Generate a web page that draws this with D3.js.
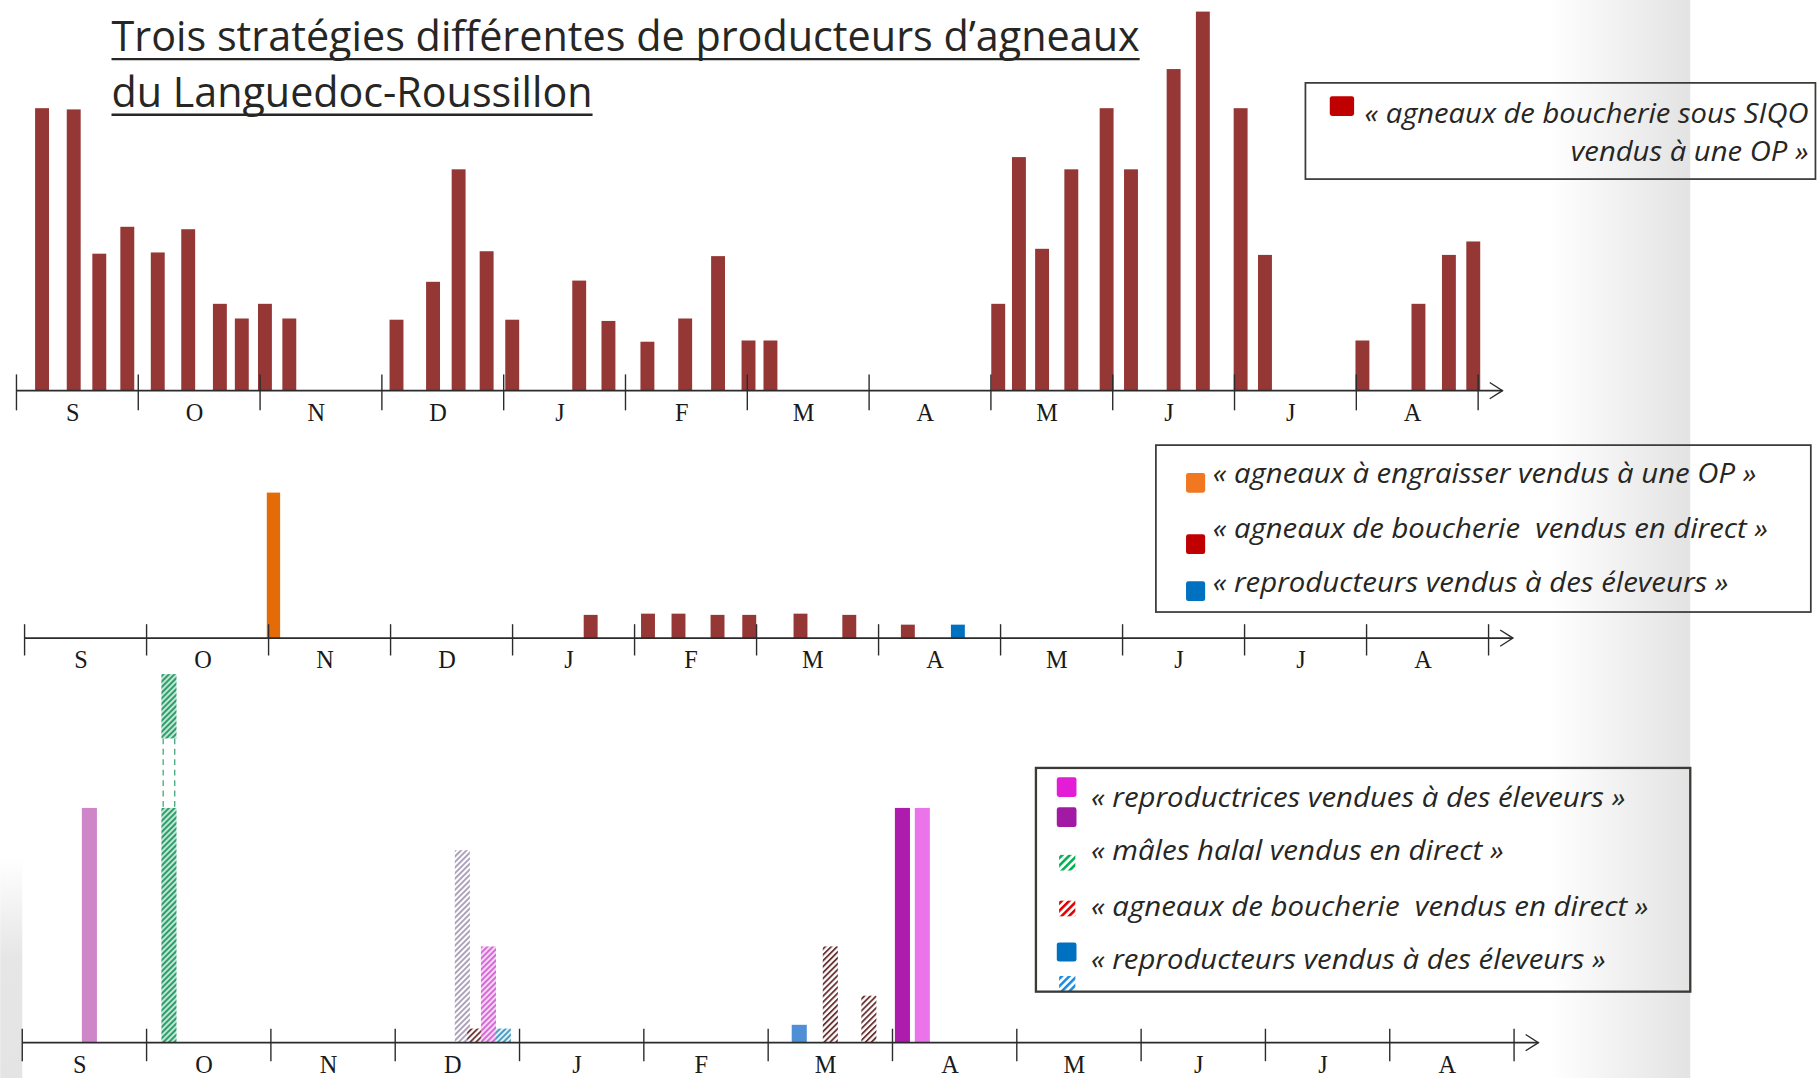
<!DOCTYPE html>
<html>
<head>
<meta charset="utf-8">
<script src="https://cdn.jsdelivr.net/npm/d3@7"></script>
<style>
  body { margin: 0; background: #fff; }
  svg text { white-space: pre; }
</style>
</head>
<body>
<svg id="drawing_region"></svg>
<script>
// month labels, september -> august
const months = ["S","O","N","D","J","F","M","A","M","J","J","A"];

// panel 1 : agneaux de boucherie sous SIQO vendus a une OP (position in months, height)
const siqoMonth = [0.21, 0.47, 0.68, 0.91, 1.16, 1.41, 1.67, 1.85, 2.04, 2.24,
                   3.12, 3.42, 3.63, 3.86, 4.07, 4.62, 4.86, 5.18, 5.49, 5.76, 6.01, 6.19,
                   8.06, 8.23, 8.42, 8.66, 8.95, 9.15, 9.5, 9.74, 10.05, 10.25,
                   11.05, 11.51, 11.76, 11.96];
const siqoValue = [23.1, 23, 11.2, 13.4, 11.3, 13.2, 7.1, 5.9, 7.1, 5.9,
                   5.8, 8.9, 18.1, 11.4, 5.8, 9, 5.7, 4, 5.9, 11, 4.1, 4.1,
                   7.1, 19.1, 11.6, 18.1, 23.1, 18.1, 26.3, 31, 23.1, 11.1,
                   4.1, 7.1, 11.1, 12.2];

// panel 2
const engraisMonth = [2.04];
const engraisValue = [11.9];
const directMonth = [4.64, 5.11, 5.36, 5.68, 5.94, 6.36, 6.76, 7.24];
const directValue = [1.9, 2, 2, 1.9, 1.9, 2, 1.9, 1.1];
const reproMonth = [7.65];
const reproValue = [1.1];

// panel 3
const p3Month = [0.54, 1.18, 3.54, 3.64, 3.75, 3.87, 6.25, 6.5, 6.81, 7.08, 7.24];
const p3Value = [5, 7.85, 4.1, 0.3, 2.05, 0.3, 0.38, 2.05, 1, 5, 5];
const p3Kind = ["femelle", "halal", "femelleGrise", "boucherie", "femelleHach", "reproHach",
                "repro", "boucherie", "boucherie", "femelleFoncee", "femelleClaire"];
const halalBreak = [5, 6.48];

const titleLines = ["Trois stratégies différentes de producteurs d’agneaux", "du Languedoc-Roussillon"];
const legend1 = ["« agneaux de boucherie sous SIQO", "vendus à une OP »"];
const legend2 = ["« agneaux à engraisser vendus à une OP »",
                 "« agneaux de boucherie  vendus en direct »",
                 "« reproducteurs vendus à des éleveurs »"];
const legend3 = ["« reproductrices vendues à des éleveurs »",
                 "« mâles halal vendus en direct »",
                 "« agneaux de boucherie  vendus en direct »",
                 "« reproducteurs vendus à des éleveurs »"];

const svg = d3.select('#drawing_region')
  .attr('width', 1818)
  .attr('height', 1078)
  .attr('viewBox', '0 0 1568 930');

const defs = svg.append('defs');

function hatch(id, stripe, bg, size, w) {
  const p = defs.append('pattern')
    .attr('id', id)
    .attr('patternUnits', 'userSpaceOnUse')
    .attr('width', size).attr('height', size)
    .attr('patternTransform', 'rotate(45)');
  p.append('rect').attr('width', size).attr('height', size).attr('fill', bg);
  p.append('rect').attr('width', w).attr('height', size).attr('fill', stripe);
}
hatch('h-halal', '#2f9c6c', '#bfe6d3', 3.4, 1.7);
hatch('h-grise', '#a99cb8', '#ffffff', 3.4, 1.6);
hatch('h-femelle', '#d46bd6', '#f6d8f4', 3.4, 1.7);
hatch('h-boucherie', '#6b3535', '#ffffff', 3.6, 1.6);
hatch('h-repro', '#4d9cc4', '#e2f0f6', 3.4, 1.7);
hatch('lg-green', '#00b050', '#ffffff', 4.6, 2.2);
hatch('lg-red', '#e00000', '#ffffff', 4.6, 2.2);
hatch('lg-blue', '#1c8ae0', '#ffffff', 4.6, 2.2);

const band = defs.append('linearGradient').attr('id', 'band').attr('x1', 0).attr('x2', 1).attr('y1', 0).attr('y2', 0);
band.append('stop').attr('offset', 0).attr('stop-color', '#ffffff');
band.append('stop').attr('offset', 1).attr('stop-color', '#e3e3e3');
const corner = defs.append('linearGradient').attr('id', 'corner').attr('x1', 0).attr('x2', 0).attr('y1', 0).attr('y2', 1);
corner.append('stop').attr('offset', 0).attr('stop-color', '#ffffff');
corner.append('stop').attr('offset', 0.45).attr('stop-color', '#e6e6e6');
corner.append('stop').attr('offset', 1).attr('stop-color', '#e4e4e4');

// slide background
svg.append('rect').attr('width', 1568).attr('height', 930).attr('fill', '#fff');
svg.append('rect').attr('x', 1336).attr('y', 0).attr('width', 122).attr('height', 930).attr('fill', 'url(#band)');
svg.append('rect').attr('x', 0).attr('y', 740).attr('width', 19).attr('height', 190).attr('fill', 'url(#corner)');

const styles = {
  femelle: '#cf86c9',
  halal: 'url(#h-halal)',
  femelleGrise: 'url(#h-grise)',
  boucherie: 'url(#h-boucherie)',
  femelleHach: 'url(#h-femelle)',
  reproHach: 'url(#h-repro)',
  repro: '#4f8fd6',
  femelleFoncee: '#ae1cae',
  femelleClaire: '#ec74ea'
};

function drawAxis(x, y0, up, down) {
  const g = svg.append('g');
  g.append('line')
    .attr('x1', x(0)).attr('x2', x(12) + 21)
    .attr('y1', y0).attr('y2', y0)
    .attr('stroke', '#2b2b2b').attr('stroke-width', 1.4);
  g.selectAll('.tick')
    .data(d3.range(13))
    .join('line')
    .attr('x1', d => x(d)).attr('x2', d => x(d))
    .attr('y1', y0 - up).attr('y2', y0 + down)
    .attr('stroke', '#2b2b2b').attr('stroke-width', 1.2);
  g.append('path')
    .attr('d', `M${x(12) + 10},${y0 - 7} L${x(12) + 21},${y0} L${x(12) + 10},${y0 + 7}`)
    .attr('fill', 'none').attr('stroke', '#2b2b2b').attr('stroke-width', 1.2);
  g.selectAll('.mois')
    .data(months)
    .join('text')
    .attr('x', (d, i) => x(i + 0.5) - 4)
    .attr('y', y0 + 26)
    .attr('text-anchor', 'middle')
    .attr('font-family', '"Liberation Serif", "Times New Roman", serif')
    .attr('font-size', 21)
    .attr('fill', '#1a1a1a')
    .text(d => d);
}

function drawBars(months, values, x, y, w, fill) {
  svg.append('g').selectAll('rect')
    .data(d3.zip(months, values))
    .join('rect')
    .attr('x', d => x(d[0]) - w / 2)
    .attr('y', d => y(d[1]))
    .attr('width', w)
    .attr('height', d => y(0) - y(d[1]))
    .attr('fill', fill);
}

// ---------- panel 1
const x1 = d3.scaleLinear().domain([0, 12]).range([14, 1275]);
const y1 = d3.scaleLinear().domain([0, 31]).range([337, 10]);
drawBars(siqoMonth, siqoValue, x1, y1, 12, '#953735');
drawAxis(x1, 337, 14, 17);

// ---------- panel 2
const x2 = d3.scaleLinear().domain([0, 12]).range([21, 1284]);
const y2 = d3.scaleLinear().domain([0, 31]).range([550.5, 223.5]);
drawBars(engraisMonth, engraisValue, x2, y2, 11.5, '#e36c09');
drawBars(directMonth, directValue, x2, y2, 12, '#953735');
drawBars(reproMonth, reproValue, x2, y2, 12, '#0070c0');
drawAxis(x2, 550.5, 12, 15);

// ---------- panel 3
const x3 = d3.scaleLinear().domain([0, 12]).range([19, 1306]);
const y3 = d3.scaleLinear().domain([0, 5]).range([899.5, 697]);
const p3 = d3.zip(p3Month, p3Value, p3Kind);
const g3 = svg.append('g');
p3.forEach(d => {
  const w = 13;
  const cx = x3(d[0]);
  if (d[2] === 'halal') {
    g3.append('rect')
      .attr('x', cx - w / 2).attr('y', y3(halalBreak[0]))
      .attr('width', w).attr('height', y3(0) - y3(halalBreak[0]))
      .attr('fill', styles.halal);
    g3.append('rect')
      .attr('x', cx - w / 2).attr('y', y3(d[1]))
      .attr('width', w).attr('height', y3(halalBreak[1]) - y3(d[1]))
      .attr('fill', styles.halal);
    [-5, 5].forEach(dx => {
      g3.append('line')
        .attr('x1', cx + dx).attr('x2', cx + dx)
        .attr('y1', y3(halalBreak[1])).attr('y2', y3(halalBreak[0]))
        .attr('stroke', '#2f9c6c').attr('stroke-width', 1)
        .attr('stroke-dasharray', '5,4');
    });
  } else {
    g3.append('rect')
      .attr('x', cx - w / 2).attr('y', y3(d[1]))
      .attr('width', w).attr('height', y3(0) - y3(d[1]))
      .attr('fill', styles[d[2]]);
  }
});
drawAxis(x3, 899.5, 12, 16);

// ---------- title
const title = svg.append('g')
  .attr('font-family', '"Open Sans", Calibri, sans-serif')
  .attr('font-size', 36)
  .attr('fill', '#262624');
const titleW = [887, 415];
titleLines.forEach((t, i) => {
  const yb = 44 + i * 48;
  title.append('text')
    .attr('x', 96).attr('y', yb)
    .attr('textLength', titleW[i]).attr('lengthAdjust', 'spacingAndGlyphs')
    .text(t);
  title.append('line')
    .attr('x1', 96).attr('x2', 96 + titleW[i])
    .attr('y1', yb + 7).attr('y2', yb + 7)
    .attr('stroke', '#262624').attr('stroke-width', 2);
});

// ---------- legends
function legendText(g, t, x, y, w) {
  g.append('text')
    .attr('x', x).attr('y', y)
    .attr('font-family', '"Open Sans", Calibri, sans-serif')
    .attr('font-style', 'italic')
    .attr('font-size', 24)
    .attr('fill', '#262624')
    .attr('textLength', w).attr('lengthAdjust', 'spacingAndGlyphs')
    .text(t);
}
function box(x0, y0, x1b, y1b, sw) {
  return svg.append('rect')
    .attr('x', x0).attr('y', y0)
    .attr('width', x1b - x0).attr('height', y1b - y0)
    .attr('fill', 'none').attr('stroke', '#3a3a36').attr('stroke-width', sw);
}
function marker(g, x, y, w, h, fill) {
  g.append('rect').attr('x', x).attr('y', y).attr('width', w).attr('height', h)
    .attr('rx', 2).attr('fill', fill);
}

// legend 1
const lg1 = svg.append('g');
box(1126, 71.5, 1566, 154.5, 1.5);
marker(lg1, 1147, 83, 21, 17, '#c00000');
legendText(lg1, legend1[0], 1177, 106, 383);
legendText(lg1, legend1[1], 1355, 138.5, 205);

// legend 2
const lg2 = svg.append('g');
box(997, 384, 1562, 528, 1.5);
const lg2Col = ['#f07820', '#c00000', '#0070c0'];
const lg2Y = [408, 461, 501.5];
const lg2Base = [417, 464.5, 510.5];
const lg2W = [469, 479, 445];
legend2.forEach((t, i) => {
  marker(lg2, 1023, lg2Y[i], 16.5, 17, lg2Col[i]);
  legendText(lg2, t, 1046, lg2Base[i], lg2W[i]);
});

// legend 3
const lg3 = svg.append('g');
box(893.5, 662.5, 1458, 855.5, 2);
marker(lg3, 911.5, 670.5, 17, 17, '#e21dd5');
marker(lg3, 911.5, 696.5, 17, 17, '#a21aa4');
lg3.append('rect').attr('x', 913.5).attr('y', 737.5).attr('width', 14).attr('height', 13.5).attr('fill', 'url(#lg-green)');
lg3.append('rect').attr('x', 913.5).attr('y', 777).attr('width', 14).attr('height', 13.5).attr('fill', 'url(#lg-red)');
marker(lg3, 911.5, 813, 17, 16.5, '#0070c0');
lg3.append('rect').attr('x', 913.5).attr('y', 842).attr('width', 14).attr('height', 13).attr('fill', 'url(#lg-blue)');
const lg3Base = [696, 742, 790, 836];
const lg3W = [461, 356, 481, 444];
legend3.forEach((t, i) => legendText(lg3, t, 941, lg3Base[i], lg3W[i]));
</script>
</body>
</html>
